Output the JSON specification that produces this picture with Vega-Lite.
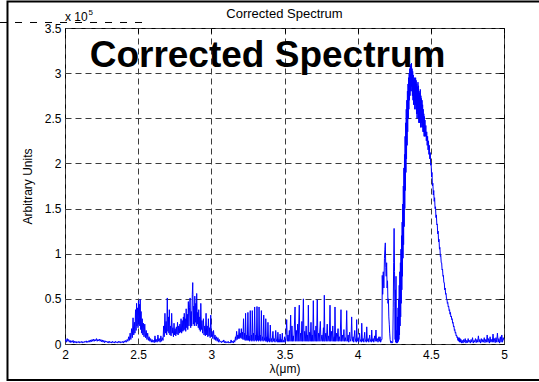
{
  "$schema": "https://vega.github.io/schema/vega-lite/v6.json",
  "width": 439,
  "height": 316,
  "autosize": {"type": "none"},
  "padding": {"left": 65, "top": 28, "right": 35, "bottom": 38},
  "background": "white",
  "config": {
    "view": {"stroke": "black", "strokeWidth": 1},
    "axis": {
      "labelFont": "Liberation Sans",
      "titleFont": "Liberation Sans",
      "labelFontSize": 12,
      "titleFontSize": 12,
      "titleFontWeight": "normal",
      "labelColor": "black",
      "titleColor": "black",
      "domain": false,
      "ticks": false,
      "grid": true,
      "gridColor": "#3c3c3c",
      "gridDash": [6, 4],
      "gridWidth": 1,
      "gridOpacity": 1
    },
    "text": {"font": "Liberation Sans", "color": "black"}
  },
  "datasets": {
    "spectrum": [
      {"w":2.000,"a":0.03},{"w":2.005,"a":0.05},{"w":2.010,"a":0.02},{"w":2.015,"a":0.06},{"w":2.020,"a":0.03},{"w":2.025,"a":0.05},{"w":2.030,"a":0.02},{"w":2.035,"a":0.04},{"w":2.040,"a":0.015},{"w":2.045,"a":0.035},
      {"w":2.050,"a":0.02},{"w":2.055,"a":0.04},{"w":2.060,"a":0.01},{"w":2.065,"a":0.03},{"w":2.070,"a":0.015},{"w":2.075,"a":0.03},{"w":2.080,"a":0.01},{"w":2.085,"a":0.025},{"w":2.090,"a":0.015},{"w":2.095,"a":0.03},
      {"w":2.100,"a":0.01},{"w":2.105,"a":0.025},{"w":2.110,"a":0.015},{"w":2.115,"a":0.03},{"w":2.120,"a":0.01},{"w":2.125,"a":0.025},{"w":2.130,"a":0.015},{"w":2.135,"a":0.03},{"w":2.140,"a":0.02},{"w":2.145,"a":0.035},
      {"w":2.150,"a":0.015},{"w":2.155,"a":0.03},{"w":2.160,"a":0.02},{"w":2.165,"a":0.04},{"w":2.170,"a":0.02},{"w":2.175,"a":0.045},{"w":2.180,"a":0.025},{"w":2.185,"a":0.05},{"w":2.190,"a":0.03},{"w":2.195,"a":0.055},
      {"w":2.200,"a":0.03},{"w":2.205,"a":0.05},{"w":2.210,"a":0.035},{"w":2.215,"a":0.06},{"w":2.220,"a":0.03},{"w":2.225,"a":0.05},{"w":2.230,"a":0.035},{"w":2.235,"a":0.055},{"w":2.240,"a":0.03},{"w":2.245,"a":0.05},
      {"w":2.250,"a":0.025},{"w":2.255,"a":0.045},{"w":2.260,"a":0.02},{"w":2.265,"a":0.04},{"w":2.270,"a":0.015},{"w":2.275,"a":0.035},{"w":2.280,"a":0.02},{"w":2.285,"a":0.03},{"w":2.290,"a":0.015},{"w":2.295,"a":0.03},
      {"w":2.300,"a":0.01},{"w":2.305,"a":0.03},{"w":2.310,"a":0.015},{"w":2.315,"a":0.025},{"w":2.320,"a":0.01},{"w":2.325,"a":0.03},{"w":2.330,"a":0.015},{"w":2.335,"a":0.025},{"w":2.340,"a":0.01},{"w":2.345,"a":0.03},
      {"w":2.350,"a":0.015},{"w":2.355,"a":0.025},{"w":2.360,"a":0.01},{"w":2.365,"a":0.03},{"w":2.370,"a":0.015},{"w":2.375,"a":0.03},{"w":2.380,"a":0.01},{"w":2.385,"a":0.025},{"w":2.390,"a":0.015},{"w":2.395,"a":0.03},
      {"w":2.400,"a":0.01},{"w":2.405,"a":0.035},{"w":2.410,"a":0.02},{"w":2.415,"a":0.04},{"w":2.420,"a":0.02},
      {"w":2.425,"a":0.05},{"w":2.430,"a":0.03},{"w":2.435,"a":0.08},{"w":2.440,"a":0.04},{"w":2.445,"a":0.12},{"w":2.450,"a":0.05},{"w":2.455,"a":0.17},{"w":2.460,"a":0.07},{"w":2.465,"a":0.29},{"w":2.470,"a":0.1},
      {"w":2.475,"a":0.24},{"w":2.478,"a":0.12},{"w":2.482,"a":0.38},{"w":2.486,"a":0.15},{"w":2.489,"a":0.45},{"w":2.492,"a":0.2},{"w":2.496,"a":0.4},{"w":2.499,"a":0.18},{"w":2.502,"a":0.48},{"w":2.505,"a":0.22},
      {"w":2.508,"a":0.44},{"w":2.511,"a":0.2},{"w":2.514,"a":0.495},{"w":2.517,"a":0.16},{"w":2.520,"a":0.36},{"w":2.524,"a":0.12},{"w":2.528,"a":0.28},{"w":2.532,"a":0.1},{"w":2.536,"a":0.23},{"w":2.540,"a":0.08},
      {"w":2.545,"a":0.22},{"w":2.550,"a":0.07},{"w":2.555,"a":0.15},{"w":2.560,"a":0.05},{"w":2.565,"a":0.12},{"w":2.570,"a":0.04},{"w":2.575,"a":0.08},{"w":2.580,"a":0.03},
      {"w":2.585,"a":0.06},{"w":2.590,"a":0.02},{"w":2.595,"a":0.05},{"w":2.600,"a":0.02},{"w":2.605,"a":0.04},{"w":2.610,"a":0.015},{"w":2.615,"a":0.09},{"w":2.620,"a":0.02},{"w":2.625,"a":0.05},{"w":2.630,"a":0.02},
      {"w":2.635,"a":0.1},{"w":2.640,"a":0.03},{"w":2.645,"a":0.06},{"w":2.650,"a":0.02},{"w":2.655,"a":0.09},{"w":2.660,"a":0.03},{"w":2.665,"a":0.07},
      {"w":2.670,"a":0.04},{"w":2.674,"a":0.2},{"w":2.678,"a":0.08},{"w":2.683,"a":0.34},{"w":2.687,"a":0.12},{"w":2.691,"a":0.25},{"w":2.695,"a":0.1},{"w":2.699,"a":0.51},{"w":2.703,"a":0.14},{"w":2.707,"a":0.3},
      {"w":2.710,"a":0.12},{"w":2.713,"a":0.38},{"w":2.717,"a":0.1},{"w":2.721,"a":0.2},{"w":2.725,"a":0.09},{"w":2.729,"a":0.34},{"w":2.733,"a":0.12},{"w":2.737,"a":0.18},{"w":2.741,"a":0.08},{"w":2.745,"a":0.23},
      {"w":2.749,"a":0.1},{"w":2.753,"a":0.17},{"w":2.757,"a":0.09},{"w":2.761,"a":0.19},{"w":2.765,"a":0.11},{"w":2.769,"a":0.24},{"w":2.773,"a":0.1},{"w":2.777,"a":0.2},{"w":2.781,"a":0.12},{"w":2.785,"a":0.22},
      {"w":2.789,"a":0.13},{"w":2.793,"a":0.28},{"w":2.797,"a":0.12},{"w":2.801,"a":0.26},{"w":2.805,"a":0.14},{"w":2.809,"a":0.3},{"w":2.812,"a":0.15},{"w":2.815,"a":0.34},{"w":2.819,"a":0.16},{"w":2.822,"a":0.28},
      {"w":2.825,"a":0.14},{"w":2.828,"a":0.39},{"w":2.832,"a":0.18},{"w":2.836,"a":0.33},{"w":2.839,"a":0.16},{"w":2.843,"a":0.47},{"w":2.847,"a":0.2},{"w":2.851,"a":0.4},{"w":2.855,"a":0.51},{"w":2.859,"a":0.18},
      {"w":2.863,"a":0.36},{"w":2.866,"a":0.2},{"w":2.870,"a":0.55},{"w":2.873,"a":0.68},{"w":2.877,"a":0.22},{"w":2.880,"a":0.42},{"w":2.884,"a":0.2},{"w":2.887,"a":0.53},{"w":2.891,"a":0.24},{"w":2.894,"a":0.45},
      {"w":2.897,"a":0.2},{"w":2.900,"a":0.56},{"w":2.904,"a":0.22},{"w":2.907,"a":0.35},{"w":2.911,"a":0.18},{"w":2.914,"a":0.38},{"w":2.918,"a":0.16},{"w":2.921,"a":0.3},{"w":2.925,"a":0.14},{"w":2.928,"a":0.45},
      {"w":2.932,"a":0.16},{"w":2.936,"a":0.26},{"w":2.940,"a":0.12},{"w":2.946,"a":0.28},{"w":2.950,"a":0.1},{"w":2.955,"a":0.2},{"w":2.959,"a":0.09},{"w":2.964,"a":0.34},{"w":2.968,"a":0.1},{"w":2.972,"a":0.2},
      {"w":2.976,"a":0.08},{"w":2.980,"a":0.28},{"w":2.984,"a":0.09},{"w":2.988,"a":0.18},{"w":2.992,"a":0.07},{"w":2.996,"a":0.32},{"w":3.000,"a":0.08},{"w":3.005,"a":0.14},{"w":3.010,"a":0.06},{"w":3.015,"a":0.15},
      {"w":3.020,"a":0.05},{"w":3.025,"a":0.1},{"w":3.030,"a":0.04},{"w":3.035,"a":0.08},{"w":3.040,"a":0.03},{"w":3.045,"a":0.07},{"w":3.050,"a":0.02},{"w":3.055,"a":0.05},{"w":3.060,"a":0.02},
      {"w":3.065,"a":0.03},{"w":3.070,"a":0.015},{"w":3.075,"a":0.035},{"w":3.080,"a":0.02},{"w":3.085,"a":0.045},{"w":3.090,"a":0.015},{"w":3.095,"a":0.03},{"w":3.100,"a":0.01},{"w":3.105,"a":0.025},{"w":3.110,"a":0.015},
      {"w":3.115,"a":0.03},{"w":3.120,"a":0.01},{"w":3.125,"a":0.02},{"w":3.130,"a":0.01},{"w":3.135,"a":0.045},{"w":3.140,"a":0.015},{"w":3.145,"a":0.03},{"w":3.150,"a":0.01},{"w":3.155,"a":0.04},{"w":3.160,"a":0.02},
      {"w":3.165,"a":0.08},{"w":3.168,"a":0.04},{"w":3.173,"a":0.14},{"w":3.177,"a":0.05},{"w":3.181,"a":0.1},{"w":3.185,"a":0.06},{"w":3.190,"a":0.17},{"w":3.194,"a":0.06},{"w":3.198,"a":0.12},{"w":3.201,"a":0.07},
      {"w":3.205,"a":0.17},{"w":3.209,"a":0.06},{"w":3.213,"a":0.13},{"w":3.216,"a":0.05},{"w":3.220,"a":0.28},{"w":3.224,"a":0.05},{"w":3.228,"a":0.12},{"w":3.231,"a":0.04},{"w":3.234,"a":0.34},{"w":3.238,"a":0.04},
      {"w":3.242,"a":0.1},{"w":3.246,"a":0.04},{"w":3.250,"a":0.35},{"w":3.254,"a":0.04},{"w":3.258,"a":0.09},{"w":3.262,"a":0.03},{"w":3.266,"a":0.37},{"w":3.270,"a":0.04},{"w":3.274,"a":0.1},{"w":3.277,"a":0.03},
      {"w":3.280,"a":0.37},{"w":3.284,"a":0.04},{"w":3.288,"a":0.12},{"w":3.292,"a":0.03},{"w":3.296,"a":0.41},{"w":3.300,"a":0.04},{"w":3.304,"a":0.1},{"w":3.308,"a":0.03},{"w":3.312,"a":0.415},{"w":3.316,"a":0.04},
      {"w":3.320,"a":0.09},{"w":3.323,"a":0.03},{"w":3.326,"a":0.41},{"w":3.330,"a":0.04},{"w":3.334,"a":0.1},{"w":3.338,"a":0.03},{"w":3.342,"a":0.37},{"w":3.346,"a":0.04},{"w":3.350,"a":0.08},{"w":3.354,"a":0.03},
      {"w":3.358,"a":0.32},{"w":3.362,"a":0.04},{"w":3.366,"a":0.07},{"w":3.369,"a":0.03},{"w":3.372,"a":0.28},{"w":3.376,"a":0.03},{"w":3.380,"a":0.08},{"w":3.383,"a":0.02},{"w":3.387,"a":0.24},{"w":3.391,"a":0.03},
      {"w":3.395,"a":0.06},{"w":3.399,"a":0.02},{"w":3.403,"a":0.21},{"w":3.407,"a":0.03},{"w":3.411,"a":0.06},{"w":3.415,"a":0.02},{"w":3.421,"a":0.14},{"w":3.425,"a":0.03},{"w":3.430,"a":0.06},{"w":3.435,"a":0.02},
      {"w":3.440,"a":0.15},{"w":3.444,"a":0.03},{"w":3.448,"a":0.05},{"w":3.451,"a":0.02},{"w":3.455,"a":0.13},{"w":3.459,"a":0.02},{"w":3.463,"a":0.05},{"w":3.466,"a":0.02},{"w":3.470,"a":0.11},{"w":3.474,"a":0.02},
      {"w":3.478,"a":0.05},{"w":3.481,"a":0.02},{"w":3.485,"a":0.12},{"w":3.489,"a":0.02},{"w":3.493,"a":0.04},{"w":3.497,"a":0.02},{"w":3.501,"a":0.08},{"w":3.505,"a":0.02},
      {"w":3.510,"a":0.05},{"w":3.515,"a":0.27},{"w":3.519,"a":0.03},{"w":3.524,"a":0.1},{"w":3.528,"a":0.03},{"w":3.533,"a":0.15},{"w":3.537,"a":0.03},{"w":3.542,"a":0.32},{"w":3.546,"a":0.03},{"w":3.551,"a":0.2},
      {"w":3.555,"a":0.03},{"w":3.560,"a":0.09},{"w":3.564,"a":0.03},{"w":3.572,"a":0.41},{"w":3.576,"a":0.03},{"w":3.581,"a":0.15},{"w":3.585,"a":0.03},{"w":3.590,"a":0.22},{"w":3.594,"a":0.03},{"w":3.601,"a":0.43},
      {"w":3.605,"a":0.03},{"w":3.610,"a":0.12},{"w":3.614,"a":0.03},{"w":3.619,"a":0.25},{"w":3.623,"a":0.03},{"w":3.629,"a":0.5},{"w":3.633,"a":0.03},{"w":3.638,"a":0.14},{"w":3.642,"a":0.03},{"w":3.648,"a":0.2},
      {"w":3.652,"a":0.03},{"w":3.657,"a":0.1},{"w":3.660,"a":0.03},{"w":3.663,"a":0.43},{"w":3.667,"a":0.03},{"w":3.672,"a":0.13},{"w":3.676,"a":0.03},{"w":3.681,"a":0.24},{"w":3.685,"a":0.03},{"w":3.690,"a":0.1},
      {"w":3.693,"a":0.03},{"w":3.697,"a":0.48},{"w":3.701,"a":0.03},{"w":3.706,"a":0.15},{"w":3.710,"a":0.03},{"w":3.715,"a":0.2},{"w":3.719,"a":0.03},{"w":3.724,"a":0.49},{"w":3.728,"a":0.03},{"w":3.733,"a":0.12},
      {"w":3.737,"a":0.03},{"w":3.745,"a":0.25},{"w":3.749,"a":0.03},{"w":3.756,"a":0.1},{"w":3.760,"a":0.03},{"w":3.766,"a":0.18},{"w":3.769,"a":0.03},{"w":3.772,"a":0.54},{"w":3.776,"a":0.03},{"w":3.782,"a":0.12},
      {"w":3.786,"a":0.03},{"w":3.792,"a":0.22},{"w":3.796,"a":0.03},{"w":3.802,"a":0.09},{"w":3.806,"a":0.03},{"w":3.811,"a":0.43},{"w":3.815,"a":0.03},{"w":3.821,"a":0.14},{"w":3.825,"a":0.03},{"w":3.830,"a":0.2},
      {"w":3.834,"a":0.03},{"w":3.840,"a":0.08},{"w":3.842,"a":0.03},{"w":3.845,"a":0.41},{"w":3.849,"a":0.03},{"w":3.855,"a":0.12},{"w":3.859,"a":0.03},{"w":3.866,"a":0.17},{"w":3.870,"a":0.03},{"w":3.876,"a":0.08},
      {"w":3.880,"a":0.03},{"w":3.886,"a":0.38},{"w":3.890,"a":0.03},{"w":3.896,"a":0.1},{"w":3.900,"a":0.03},{"w":3.906,"a":0.16},{"w":3.910,"a":0.03},{"w":3.916,"a":0.07},{"w":3.920,"a":0.03},{"w":3.925,"a":0.37},
      {"w":3.929,"a":0.03},{"w":3.935,"a":0.1},{"w":3.939,"a":0.02},{"w":3.945,"a":0.13},{"w":3.949,"a":0.03},{"w":3.955,"a":0.06},{"w":3.959,"a":0.3},{"w":3.963,"a":0.03},{"w":3.969,"a":0.08},{"w":3.973,"a":0.02},
      {"w":3.980,"a":0.15},{"w":3.984,"a":0.03},{"w":3.989,"a":0.06},{"w":3.991,"a":0.02},{"w":3.993,"a":0.27},{"w":3.997,"a":0.03},{"w":4.003,"a":0.07},{"w":4.007,"a":0.02},{"w":4.013,"a":0.12},{"w":4.017,"a":0.03},
      {"w":4.023,"a":0.05},{"w":4.025,"a":0.02},{"w":4.028,"a":0.23},{"w":4.032,"a":0.03},{"w":4.038,"a":0.06},{"w":4.042,"a":0.02},{"w":4.048,"a":0.13},{"w":4.052,"a":0.03},{"w":4.058,"a":0.05},{"w":4.059,"a":0.02},
      {"w":4.062,"a":0.19},{"w":4.066,"a":0.03},{"w":4.072,"a":0.06},{"w":4.076,"a":0.02},{"w":4.082,"a":0.1},{"w":4.086,"a":0.03},{"w":4.091,"a":0.05},{"w":4.093,"a":0.02},{"w":4.096,"a":0.155},{"w":4.100,"a":0.03},
      {"w":4.106,"a":0.06},{"w":4.110,"a":0.02},{"w":4.116,"a":0.09},{"w":4.120,"a":0.03},{"w":4.125,"a":0.155},{"w":4.129,"a":0.03},{"w":4.135,"a":0.06},{"w":4.139,"a":0.02},{"w":4.145,"a":0.08},{"w":4.149,"a":0.03},
      {"w":4.153,"a":0.08},{"w":4.157,"a":0.02},{"w":4.162,"a":0.05},
      {"w":4.166,"a":0.05},{"w":4.168,"a":0.76},{"w":4.171,"a":0.55},{"w":4.175,"a":0.8},{"w":4.179,"a":0.62},{"w":4.183,"a":0.95},{"w":4.186,"a":1.05},{"w":4.189,"a":1.12},{"w":4.192,"a":0.85},{"w":4.195,"a":0.75},
      {"w":4.198,"a":0.9},{"w":4.201,"a":0.62},{"w":4.204,"a":0.7},{"w":4.207,"a":0.45},{"w":4.210,"a":0.5},{"w":4.213,"a":0.3},{"w":4.216,"a":0.22},{"w":4.219,"a":0.12},{"w":4.222,"a":0.05},{"w":4.225,"a":0.02},
      {"w":4.228,"a":0.01},{"w":4.232,"a":0.03},{"w":4.236,"a":0.01},{"w":4.240,"a":0.02},{"w":4.243,"a":0.4},{"w":4.246,"a":0.9},{"w":4.249,"a":1.28},{"w":4.252,"a":0.8},{"w":4.254,"a":0.47},{"w":4.256,"a":0.05},
      {"w":4.258,"a":0.6},{"w":4.260,"a":0.02},{"w":4.262,"a":0.75},{"w":4.264,"a":0.01},
      {"w":4.266,"a":0.02},{"w":4.268,"a":0.15},{"w":4.270,"a":0.01},{"w":4.272,"a":0.3},{"w":4.274,"a":0.02},{"w":4.276,"a":0.4},{"w":4.278,"a":0.03},{"w":4.280,"a":0.5},{"w":4.282,"a":0.05},{"w":4.284,"a":0.65},
      {"w":4.286,"a":0.1},{"w":4.288,"a":0.8},{"w":4.290,"a":0.2},{"w":4.292,"a":0.9},{"w":4.294,"a":0.3},{"w":4.296,"a":1.05},{"w":4.298,"a":0.45},{"w":4.300,"a":1.2},{"w":4.302,"a":0.6},{"w":4.304,"a":1.35},
      {"w":4.306,"a":0.75},{"w":4.308,"a":1.55},{"w":4.310,"a":0.95},{"w":4.312,"a":1.75},{"w":4.314,"a":1.1},{"w":4.316,"a":1.95},{"w":4.318,"a":1.3},{"w":4.320,"a":2.1},{"w":4.322,"a":1.5},{"w":4.324,"a":2.3},
      {"w":4.326,"a":1.7},{"w":4.328,"a":2.45},{"w":4.330,"a":1.9},{"w":4.332,"a":2.6},{"w":4.334,"a":2.05},{"w":4.336,"a":2.7},{"w":4.338,"a":2.2},{"w":4.340,"a":2.8},{"w":4.342,"a":2.35},{"w":4.344,"a":2.88},
      {"w":4.346,"a":2.5},{"w":4.348,"a":2.95},{"w":4.350,"a":2.6},{"w":4.352,"a":3.0},{"w":4.354,"a":2.7},{"w":4.356,"a":3.05},{"w":4.358,"a":2.75},{"w":4.360,"a":3.08},{"w":4.362,"a":2.8},{"w":4.364,"a":3.1},
      {"w":4.366,"a":2.85},{"w":4.368,"a":3.11},{"w":4.370,"a":2.8},{"w":4.372,"a":3.05},{"w":4.374,"a":2.75},{"w":4.376,"a":3.02},{"w":4.378,"a":2.7},{"w":4.380,"a":2.98},{"w":4.382,"a":2.65},{"w":4.384,"a":2.92},
      {"w":4.386,"a":2.7},{"w":4.388,"a":2.95},{"w":4.390,"a":2.6},{"w":4.392,"a":2.9},{"w":4.394,"a":2.65},{"w":4.396,"a":2.95},{"w":4.398,"a":2.6},{"w":4.400,"a":2.92},{"w":4.402,"a":2.55},{"w":4.404,"a":2.88},
      {"w":4.406,"a":2.5},{"w":4.408,"a":2.85},{"w":4.410,"a":2.55},{"w":4.412,"a":2.9},{"w":4.414,"a":2.5},{"w":4.416,"a":2.86},{"w":4.418,"a":2.45},{"w":4.420,"a":2.8},{"w":4.422,"a":2.45},{"w":4.424,"a":2.78},
      {"w":4.426,"a":2.45},{"w":4.428,"a":2.82},{"w":4.430,"a":2.4},{"w":4.432,"a":2.75},{"w":4.434,"a":2.4},{"w":4.436,"a":2.72},{"w":4.438,"a":2.45},{"w":4.440,"a":2.7},{"w":4.442,"a":2.4},{"w":4.444,"a":2.65},
      {"w":4.446,"a":2.35},{"w":4.448,"a":2.6},{"w":4.450,"a":2.35},{"w":4.452,"a":2.55},{"w":4.454,"a":2.3},{"w":4.456,"a":2.52},{"w":4.458,"a":2.3},{"w":4.460,"a":2.48},{"w":4.463,"a":2.3},{"w":4.466,"a":2.42},
      {"w":4.469,"a":2.25},{"w":4.472,"a":2.35},{"w":4.475,"a":2.2},{"w":4.478,"a":2.3},{"w":4.481,"a":2.15},{"w":4.484,"a":2.25},{"w":4.487,"a":2.1},{"w":4.490,"a":2.2},{"w":4.493,"a":2.05},{"w":4.496,"a":2.12},
      {"w":4.499,"a":1.98},{"w":4.502,"a":2.0},{"w":4.505,"a":1.85},{"w":4.508,"a":1.9},{"w":4.511,"a":1.75},{"w":4.514,"a":1.78},{"w":4.517,"a":1.65},{"w":4.520,"a":1.7},{"w":4.523,"a":1.58},{"w":4.526,"a":1.62},
      {"w":4.529,"a":1.5},{"w":4.532,"a":1.52},{"w":4.535,"a":1.4},{"w":4.538,"a":1.43},{"w":4.541,"a":1.32},{"w":4.544,"a":1.33},{"w":4.547,"a":1.22},{"w":4.550,"a":1.25},{"w":4.553,"a":1.13},{"w":4.556,"a":1.16},
      {"w":4.559,"a":1.05},{"w":4.562,"a":1.07},{"w":4.565,"a":0.97},{"w":4.568,"a":0.98},{"w":4.571,"a":0.9},{"w":4.574,"a":0.9},{"w":4.577,"a":0.82},{"w":4.580,"a":0.83},{"w":4.583,"a":0.75},{"w":4.586,"a":0.76},
      {"w":4.589,"a":0.68},{"w":4.592,"a":0.68},{"w":4.595,"a":0.6},{"w":4.598,"a":0.62},{"w":4.601,"a":0.55},{"w":4.604,"a":0.56},{"w":4.607,"a":0.5},{"w":4.610,"a":0.5},{"w":4.613,"a":0.45},{"w":4.616,"a":0.46},
      {"w":4.619,"a":0.41},{"w":4.622,"a":0.42},{"w":4.625,"a":0.37},{"w":4.628,"a":0.38},{"w":4.631,"a":0.33},{"w":4.634,"a":0.35},{"w":4.637,"a":0.3},{"w":4.640,"a":0.31},{"w":4.643,"a":0.27},{"w":4.646,"a":0.28},
      {"w":4.649,"a":0.23},{"w":4.652,"a":0.24},{"w":4.655,"a":0.19},{"w":4.658,"a":0.2},{"w":4.661,"a":0.15},{"w":4.664,"a":0.16},{"w":4.667,"a":0.12},{"w":4.670,"a":0.13},{"w":4.673,"a":0.09},{"w":4.676,"a":0.1},
      {"w":4.679,"a":0.07},{"w":4.682,"a":0.08},{"w":4.685,"a":0.04},{"w":4.688,"a":0.07},{"w":4.691,"a":0.03},{"w":4.694,"a":0.07},{"w":4.697,"a":0.02},{"w":4.700,"a":0.06},{"w":4.703,"a":0.02},{"w":4.706,"a":0.05},
      {"w":4.710,"a":0.01},
      {"w":4.715,"a":0.04},{"w":4.720,"a":0.01},{"w":4.725,"a":0.05},{"w":4.730,"a":0.02},{"w":4.735,"a":0.06},{"w":4.740,"a":0.01},{"w":4.745,"a":0.04},{"w":4.750,"a":0.015},{"w":4.755,"a":0.06},{"w":4.760,"a":0.02},
      {"w":4.765,"a":0.04},{"w":4.770,"a":0.01},{"w":4.775,"a":0.05},{"w":4.780,"a":0.02},{"w":4.785,"a":0.07},{"w":4.790,"a":0.01},{"w":4.795,"a":0.04},{"w":4.800,"a":0.02},{"w":4.805,"a":0.06},{"w":4.810,"a":0.015},
      {"w":4.815,"a":0.05},{"w":4.820,"a":0.02},{"w":4.825,"a":0.09},{"w":4.830,"a":0.02},{"w":4.835,"a":0.05},{"w":4.840,"a":0.01},{"w":4.845,"a":0.06},{"w":4.850,"a":0.02},{"w":4.855,"a":0.05},{"w":4.860,"a":0.02},
      {"w":4.865,"a":0.07},{"w":4.870,"a":0.015},{"w":4.875,"a":0.05},{"w":4.880,"a":0.02},{"w":4.885,"a":0.1},{"w":4.890,"a":0.02},{"w":4.895,"a":0.06},{"w":4.900,"a":0.01},{"w":4.905,"a":0.08},{"w":4.910,"a":0.02},
      {"w":4.915,"a":0.05},{"w":4.920,"a":0.02},{"w":4.925,"a":0.11},{"w":4.930,"a":0.02},{"w":4.935,"a":0.06},{"w":4.940,"a":0.015},{"w":4.945,"a":0.07},{"w":4.950,"a":0.02},{"w":4.955,"a":0.12},{"w":4.960,"a":0.02},
      {"w":4.965,"a":0.06},{"w":4.970,"a":0.01},{"w":4.975,"a":0.08},{"w":4.980,"a":0.02},{"w":4.985,"a":0.1},{"w":4.990,"a":0.02},{"w":4.995,"a":0.07},{"w":5.000,"a":0.04}
    ],
    "single": [{}]
  },
  "resolve": {"axis": {"x": "independent", "y": "independent"}},
  "layer": [
    {
      "data": {"name": "spectrum"},
      "mark": {"type": "line", "color": "#0000ff", "strokeWidth": 1, "clip": true},
      "encoding": {
        "x": {
          "field": "w", "type": "quantitative",
          "scale": {"domain": [2, 5], "nice": false, "zero": false},
          "axis": {
            "orient": "bottom",
            "values": [2, 2.5, 3, 3.5, 4, 4.5, 5],
            "format": "~g",
            "labelPadding": 5,
            "labelFlush": false,
            "title": "λ(μm)",
            "titlePadding": 3
          }
        },
        "y": {
          "field": "a", "type": "quantitative",
          "scale": {"domain": [0, 3.5], "nice": false},
          "axis": {
            "orient": "left",
            "values": [0, 0.5, 1, 1.5, 2, 2.5, 3, 3.5],
            "format": "~g",
            "labelPadding": 4,
            "labelFlush": false,
            "title": "Arbitrary Units",
            "titlePadding": 10
          }
        }
      }
    },
    {
      "data": {"name": "single"},
      "mark": {"type": "text", "text": "Corrected Spectrum", "fontSize": 37, "fontWeight": "bold", "align": "center", "baseline": "alphabetic"},
      "encoding": {
        "x": {
          "datum": 3.384, "type": "quantitative",
          "scale": {"domain": [2, 5], "nice": false, "zero": false},
          "axis": {"orient": "top", "values": [2, 2.5, 3, 3.5, 4, 4.5, 5], "labels": false, "title": null, "grid": false, "ticks": true, "tickSize": -5, "tickColor": "black", "tickWidth": 1}
        },
        "y": {
          "datum": 3.068, "type": "quantitative",
          "scale": {"domain": [0, 3.5], "nice": false},
          "axis": {"orient": "right", "values": [0, 0.5, 1, 1.5, 2, 2.5, 3, 3.5], "labels": false, "title": null, "grid": false, "ticks": true, "tickSize": -5, "tickColor": "black", "tickWidth": 1}
        }
      }
    },
    {
      "data": {"name": "single"},
      "mark": {"type": "text", "text": "Corrected Spectrum", "fontSize": 13, "align": "center", "baseline": "alphabetic"},
      "encoding": {
        "x": {"datum": 3.5, "type": "quantitative", "scale": {"domain": [2, 5], "nice": false, "zero": false}, "axis": null},
        "y": {"datum": 3.607, "type": "quantitative", "scale": {"domain": [0, 3.5], "nice": false}, "axis": null}
      }
    },
    {
      "data": {"name": "single"},
      "mark": {"type": "text", "text": "x 10", "fontSize": 12, "align": "left", "baseline": "alphabetic"},
      "encoding": {
        "x": {"datum": 2.0, "type": "quantitative", "scale": {"domain": [2, 5], "nice": false, "zero": false}, "axis": null},
        "y": {"datum": 3.572, "type": "quantitative", "scale": {"domain": [0, 3.5], "nice": false}, "axis": null}
      }
    },
    {
      "data": {"name": "single"},
      "mark": {"type": "text", "text": "5", "fontSize": 8, "align": "left", "baseline": "alphabetic"},
      "encoding": {
        "x": {"datum": 2.16, "type": "quantitative", "scale": {"domain": [2, 5], "nice": false, "zero": false}, "axis": null},
        "y": {"datum": 3.644, "type": "quantitative", "scale": {"domain": [0, 3.5], "nice": false}, "axis": null}
      }
    },
    {
      "data": {"name": "single"},
      "mark": {"type": "rule", "color": "black", "strokeWidth": 1, "strokeDash": [7, 8]},
      "encoding": {
        "x": {"datum": 1.556, "type": "quantitative", "scale": {"domain": [2, 5], "nice": false, "zero": false}, "axis": null},
        "x2": {"datum": 2.581},
        "y": {"datum": 3.561, "type": "quantitative", "scale": {"domain": [0, 3.5], "nice": false}, "axis": null}
      }
    },
    {
      "data": {"name": "single"},
      "mark": {"type": "rect", "fill": null, "fillOpacity": 0, "stroke": "black", "strokeWidth": 2},
      "encoding": {
        "x": {"datum": 1.607, "type": "quantitative", "scale": {"domain": [2, 5], "nice": false, "zero": false}, "axis": null},
        "x2": {"datum": 5.3},
        "y": {"datum": 3.7935, "type": "quantitative", "scale": {"domain": [0, 3.5], "nice": false}, "axis": null},
        "y2": {"datum": -0.3987}
      }
    }
  ]
}
